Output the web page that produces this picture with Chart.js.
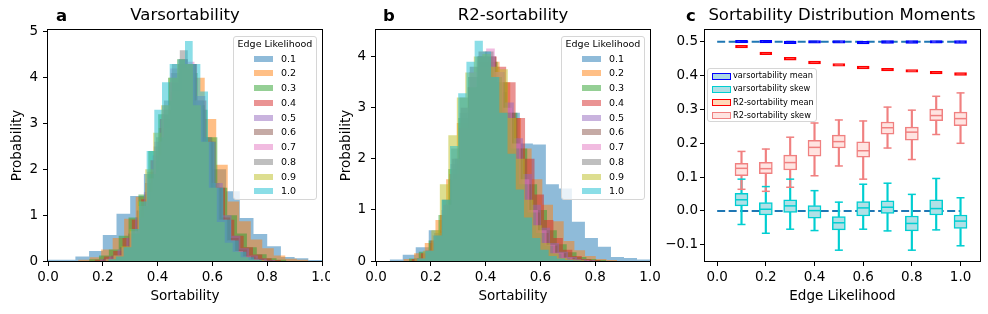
<!DOCTYPE html>
<html>
<head>
<meta charset="utf-8">
<script src="https://cdn.jsdelivr.net/npm/chart.js@4.4.1/dist/chart.umd.min.js"></script>
<style>
  body { margin: 0; background: #fff; }
  #fig { position: relative; width: 988px; height: 314px; font-family: "DejaVu Sans", sans-serif; color: #000; }
  .panel { position: absolute; top: 0; }
  .ttl { position: absolute; top: 5px; font-size: 16.5px; white-space: nowrap; transform: translateX(-50%); }
  .tag { position: absolute; top: 6px; font-size: 16.5px; font-weight: bold; }
  .lg { position: absolute; background: rgba(255,255,255,0.8); border: 1px solid #d6d6d6; border-radius: 3px; box-sizing: border-box; }
  .lg div { position: absolute; white-space: nowrap; }
</style>
</head>
<body>
<div id="fig">
  <div class="panel" style="left:0px"><canvas id="chartA" width="330" height="314"></canvas></div>
  <div class="panel" style="left:330px"><canvas id="chartB" width="330" height="314"></canvas></div>
  <div class="panel" style="left:660px"><canvas id="chartC" width="328" height="314"></canvas></div>

  <div class="tag" style="left:56px">a</div>
  <div class="ttl" style="left:185px">Varsortability</div>
  <div class="tag" style="left:383px">b</div>
  <div class="ttl" style="left:513px">R2-sortability</div>
  <div class="tag" style="left:686px">c</div>
  <div class="ttl" style="left:842px">Sortability Distribution Moments</div>

  <div class="lg" id="legA" style="left:233px;top:36px;width:84px;height:164px"></div>
  <div class="lg" id="legB" style="left:561px;top:36px;width:84px;height:164px"></div>
  <div class="lg" id="legC" style="left:707px;top:68px;width:110px;height:54px"></div>
</div>
<script>
// ---------- data ----------
const edgeLabels = ["0.1", "0.2", "0.3", "0.4", "0.5", "0.6", "0.7", "0.8", "0.9", "1.0"];
const edgeLik = [0.1, 0.2, 0.3, 0.4, 0.5, 0.6, 0.7, 0.8, 0.9, 1.0];
const tab10 = ["#1f77b4", "#ff7f0e", "#2ca02c", "#d62728", "#9467bd", "#8c564b", "#e377c2", "#7f7f7f", "#bcbd22", "#17becf"];

// panel a: varsortability histograms (20 bins between lo and hi, density)
const varLo = [0.00, 0.11, 0.15, 0.17, 0.19, 0.20, 0.21, 0.22, 0.21, 0.22];
const varHi = [1.00, 0.95, 0.87, 0.85, 0.83, 0.82, 0.80, 0.80, 0.79, 0.78];
const varDensity = [
  [0.03, 0.03, 0.10, 0.22, 0.57, 1.03, 1.42, 1.90, 2.60, 3.10, 3.20, 2.70, 2.00, 1.52, 0.94, 0.59, 0.32, 0.09, 0.06, 0.02],
  [0.03, 0.08, 0.25, 0.50, 0.92, 1.40, 1.95, 2.90, 3.70, 4.20, 4.00, 3.10, 2.10, 1.30, 0.87, 0.47, 0.28, 0.12, 0.05, 0.03],
  [0.04, 0.12, 0.25, 0.55, 0.95, 1.45, 2.40, 3.20, 4.00, 4.30, 4.10, 3.30, 2.70, 1.60, 1.00, 0.60, 0.30, 0.15, 0.06, 0.03],
  [0.03, 0.10, 0.22, 0.50, 0.90, 1.35, 2.20, 3.10, 3.90, 4.30, 4.30, 3.50, 2.60, 1.60, 0.90, 0.55, 0.30, 0.14, 0.06, 0.02],
  [0.04, 0.10, 0.25, 0.50, 0.95, 1.50, 2.30, 3.20, 3.90, 4.40, 4.30, 3.60, 2.60, 1.70, 1.00, 0.55, 0.28, 0.12, 0.05, 0.02],
  [0.05, 0.12, 0.30, 0.60, 1.10, 1.70, 2.50, 3.30, 4.10, 4.40, 4.30, 3.40, 2.60, 1.60, 0.95, 0.50, 0.25, 0.10, 0.05, 0.02],
  [0.05, 0.12, 0.30, 0.65, 1.20, 1.80, 2.60, 3.40, 4.20, 4.40, 4.35, 3.50, 2.60, 1.60, 0.90, 0.45, 0.22, 0.10, 0.04, 0.02],
  [0.04, 0.10, 0.30, 0.60, 1.20, 1.90, 2.70, 3.50, 4.30, 4.60, 4.30, 3.50, 2.70, 1.70, 0.90, 0.45, 0.20, 0.09, 0.04, 0.02],
  [0.04, 0.12, 0.32, 0.70, 1.30, 2.00, 2.80, 3.40, 4.00, 4.40, 4.30, 3.40, 2.60, 1.60, 0.85, 0.40, 0.20, 0.08, 0.03, 0.02],
  [0.04, 0.10, 0.30, 0.70, 1.30, 2.40, 3.30, 3.90, 4.30, 4.40, 4.80, 4.30, 3.70, 2.60, 1.60, 0.90, 0.45, 0.20, 0.08, 0.03]
];

// panel b: R2-sortability histograms
const r2Lo = [0.05, 0.10, 0.12, 0.13, 0.14, 0.15, 0.15, 0.15, 0.14, 0.15];
const r2Hi = [1.00, 0.88, 0.84, 0.82, 0.80, 0.79, 0.78, 0.77, 0.76, 0.75];
const r2Density = [
  [0.03, 0.12, 0.27, 0.60, 1.20, 2.00, 2.80, 3.30, 3.30, 2.90, 2.30, 2.28, 1.50, 1.42, 0.77, 0.45, 0.28, 0.08, 0.06, 0.03],
  [0.04, 0.15, 0.35, 0.80, 1.60, 2.70, 3.40, 3.80, 3.90, 3.50, 2.80, 2.20, 1.60, 1.10, 0.78, 0.39, 0.21, 0.10, 0.04, 0.02],
  [0.05, 0.18, 0.40, 0.90, 1.80, 2.80, 3.60, 4.00, 3.90, 3.50, 2.90, 2.20, 1.50, 1.00, 0.60, 0.33, 0.17, 0.08, 0.04, 0.02],
  [0.04, 0.15, 0.40, 0.90, 1.70, 2.60, 3.40, 3.90, 4.00, 3.80, 3.50, 2.80, 2.00, 1.30, 0.80, 0.45, 0.22, 0.10, 0.04, 0.02],
  [0.05, 0.20, 0.50, 1.00, 1.90, 2.90, 3.60, 4.00, 4.00, 3.70, 3.10, 2.40, 1.70, 1.10, 0.65, 0.35, 0.18, 0.08, 0.03, 0.02],
  [0.06, 0.20, 0.50, 1.10, 2.00, 3.00, 3.80, 4.10, 4.00, 3.50, 2.90, 2.20, 1.50, 0.95, 0.55, 0.30, 0.15, 0.06, 0.03, 0.02],
  [0.05, 0.20, 0.50, 1.10, 2.00, 3.00, 3.70, 4.00, 4.16, 3.70, 3.00, 2.30, 1.60, 1.00, 0.60, 0.32, 0.16, 0.07, 0.03, 0.02],
  [0.05, 0.20, 0.55, 1.20, 2.20, 3.20, 3.40, 4.00, 4.10, 3.60, 2.90, 2.20, 1.50, 0.95, 0.55, 0.30, 0.14, 0.06, 0.03, 0.02],
  [0.05, 0.20, 0.60, 1.50, 2.46, 3.20, 3.69, 4.00, 4.05, 3.80, 3.75, 2.80, 2.00, 1.20, 0.70, 0.35, 0.15, 0.06, 0.03, 0.02],
  [0.05, 0.20, 0.50, 1.20, 2.25, 3.28, 3.90, 4.31, 4.10, 3.60, 2.90, 2.10, 1.40, 0.85, 0.45, 0.22, 0.10, 0.05, 0.02, 0.01]
];

// panel c: box plot statistics per edge likelihood
const varMean = [0.5005, 0.5005, 0.4985, 0.5000, 0.5000, 0.4975, 0.4995, 0.4995, 0.4998, 0.4995];
const r2Mean = [0.486, 0.466, 0.450, 0.439, 0.432, 0.424, 0.418, 0.414, 0.409, 0.405];
const r2SkewLow = [0.064, 0.058, 0.070, 0.104, 0.133, 0.094, 0.186, 0.152, 0.226, 0.200];
const r2SkewQ1 = [0.104, 0.110, 0.121, 0.162, 0.186, 0.159, 0.227, 0.209, 0.267, 0.252];
const r2SkewMed = [0.126, 0.125, 0.143, 0.188, 0.205, 0.178, 0.246, 0.233, 0.282, 0.273];
const r2SkewQ3 = [0.141, 0.144, 0.165, 0.209, 0.224, 0.204, 0.263, 0.248, 0.301, 0.292];
const r2SkewHigh = [0.176, 0.183, 0.218, 0.260, 0.269, 0.266, 0.307, 0.298, 0.339, 0.349];
const varSkewLow = [-0.040, -0.066, -0.054, -0.058, -0.116, -0.054, -0.059, -0.116, -0.056, -0.103];
const varSkewQ1 = [0.015, -0.012, -0.004, -0.021, -0.056, -0.015, -0.007, -0.059, -0.012, -0.052];
const varSkewMed = [0.033, 0.005, 0.015, 0.001, -0.035, 0.009, 0.011, -0.037, 0.007, -0.030];
const varSkewQ3 = [0.052, 0.025, 0.033, 0.016, -0.017, 0.028, 0.030, -0.015, 0.033, -0.012];
const varSkewHigh = [0.094, 0.072, 0.094, 0.060, 0.026, 0.079, 0.082, 0.049, 0.096, 0.039];
const refLineX = [0, 1];
const meanRef = 0.5;
const skewRef = 0.0;

const ticks01 = [0, 0.2, 0.4, 0.6, 0.8, 1.0];
const ticksA = [0, 1, 2, 3, 4, 5];
const ticksB = [0, 1, 2, 3, 4];
const ticksC = [-0.1, 0, 0.1, 0.2, 0.3, 0.4, 0.5];
const legendC = ["varsortability mean", "varsortability skew", "R2-sortability mean", "R2-sortability skew"];

// ---------- common ----------
Chart.defaults.font.family = "'DejaVu Sans', sans-serif";
Chart.defaults.color = "#000";
const FS = 13.5;

const frame = {
  id: "frame",
  afterDraw(chart) {
    const { ctx, chartArea: a } = chart;
    ctx.save();
    ctx.strokeStyle = "#000";
    ctx.lineWidth = 1;
    ctx.strokeRect(Math.round(a.left) - 0.5, Math.round(a.top) - 0.5, Math.round(a.right - a.left) + 1, Math.round(a.bottom - a.top) + 1);
    ctx.restore();
  },
};

function noPad(s) {
  s.paddingLeft = 0; s.paddingRight = 0; s.paddingTop = 0; s.paddingBottom = 0;
}

function xAxis(min, max, ticks, title) {
  return {
    type: "linear", min, max, offset: false,
    afterBuildTicks: (s) => { s.ticks = ticks.map((v) => ({ value: v })); },
    afterFit: (s) => { s.height = 53; noPad(s); },
    grid: { drawOnChartArea: false, drawTicks: true, tickLength: 5, color: "#000", offset: false },
    border: { display: false },
    ticks: { font: { size: FS }, padding: 3, maxRotation: 0, autoSkip: false, callback: (v) => v.toFixed(1) },
    title: { display: true, text: title, font: { size: FS }, padding: { top: 0, bottom: 9 } },
  };
}

function yAxis(min, max, ticks, width, title, fmt, tpad, lpad) {
  return {
    type: "linear", min, max,
    afterBuildTicks: (s) => { s.ticks = ticks.map((v) => ({ value: v })); },
    afterFit: (s) => { s.width = width; noPad(s); },
    grid: { drawOnChartArea: false, drawTicks: true, tickLength: 5, color: "#000" },
    border: { display: false },
    ticks: { font: { size: FS }, padding: lpad, autoSkip: false, callback: fmt },
    title: { display: !!title, text: title, font: { size: FS }, padding: { top: tpad, bottom: 0 } },
  };
}

function histSets(lo, hi, dens) {
  return dens.map((h, i) => {
    const w = (hi[i] - lo[i]) / h.length;
    const pts = h.map((v, k) => ({ x: lo[i] + k * w, y: v }));
    pts.push({ x: hi[i], y: 0 });
    return {
      label: edgeLabels[i], data: pts, stepped: true, fill: "origin",
      backgroundColor: tab10[i] + "80", borderColor: "rgba(0,0,0,0)", borderWidth: 0,
      pointRadius: 0, order: 20 - i,
    };
  });
}

function histChart(id, lo, hi, dens, ymax, yticks, ywidth, tpad, rpad) {
  new Chart(document.getElementById(id), {
    type: "line",
    data: { datasets: histSets(lo, hi, dens) },
    options: {
      responsive: false, animation: false,
      layout: { padding: { left: 0, top: 30, right: rpad, bottom: 0 } },
      plugins: { legend: { display: false }, tooltip: { enabled: false } },
      scales: {
        x: xAxis(0, 1, ticks01, "Sortability"),
        y: yAxis(0, ymax, yticks, ywidth, "Probability", (v) => String(v), tpad, 5),
      },
    },
    plugins: [frame],
  });
}

// ========== a: varsortability ==========
histChart("chartA", varLo, varHi, varDensity, 5.04, ticksA, 48, 9, 8);

// ========== b: R2-sortability ==========
histChart("chartB", r2Lo, r2Hi, r2Density, 4.52, ticksB, 46, 8, 10);

// ========== c: moments ==========
const pts = (ys) => edgeLik.map((x, i) => ({ x, y: ys[i] }));
const spans = (a, b) => edgeLik.map((x, i) => ({ x, y: [a[i], b[i]] }));
const meanBox = (m) => edgeLik.map((x, i) => ({ x, y: [m[i] - 0.004, m[i] + 0.004] }));

function boxSets(low, q1, med, q3, high, fill, edge) {
  return [
    { type: "bar", data: spans(low, q1), backgroundColor: edge, barThickness: 1.5, grouped: false, order: 8 },
    { type: "bar", data: spans(q3, high), backgroundColor: edge, barThickness: 1.5, grouped: false, order: 8 },
    { type: "bar", data: spans(q1, q3), backgroundColor: fill, borderColor: edge, borderWidth: 1.5, borderSkipped: false, barThickness: 13, grouped: false, order: 6 },
    { type: "line", data: pts(low).concat(pts(high)), showLine: false, pointStyle: "line", pointRadius: 4, borderColor: edge, borderWidth: 1.5, order: 5 },
    { type: "line", data: pts(med), showLine: false, pointStyle: "line", pointRadius: 6, borderColor: edge, borderWidth: 1.5, order: 4 },
  ];
}

const refLine = (y) => ({
  type: "line", data: refLineX.map((x) => ({ x, y })), borderColor: "#1f77b4", borderWidth: 2,
  borderDash: [8, 3.5], pointRadius: 0, order: 10,
});

new Chart(document.getElementById("chartC"), {
  type: "bar",
  data: {
    datasets: [
      refLine(meanRef),
      refLine(skewRef),
      ...boxSets(r2SkewLow, r2SkewQ1, r2SkewMed, r2SkewQ3, r2SkewHigh, "#ffe4e1", "#f08080"),
      ...boxSets(varSkewLow, varSkewQ1, varSkewMed, varSkewQ3, varSkewHigh, "#b0e0e6", "#00ced1"),
      { type: "bar", data: meanBox(r2Mean), backgroundColor: "#ff0000", borderColor: "#ff0000", borderWidth: 1.5, borderSkipped: false, barThickness: 12, grouped: false, order: 2 },
      { type: "bar", data: meanBox(varMean), backgroundColor: "#0000ff", borderColor: "#0000ff", borderWidth: 1.5, borderSkipped: false, barThickness: 12, grouped: false, order: 2 },
    ],
  },
  options: {
    responsive: false, animation: false,
    layout: { padding: { left: 0, top: 30, right: 8, bottom: 0 } },
    plugins: { legend: { display: false }, tooltip: { enabled: false } },
    scales: {
      x: xAxis(-0.05, 1.08, ticks01, "Edge Likelihood"),
      y: yAxis(-0.148, 0.535, ticksC, 45, "", (v) => (v < 0 ? "\u2212" : "") + Math.abs(v).toFixed(1), 0, 2),
    },
  },
  plugins: [frame],
});

// ========== legends ==========
function histLegend(id) {
  const box = document.getElementById(id);
  const t = document.createElement("div");
  t.textContent = "Edge Likelihood";
  t.style.cssText = "left:0;width:100%;text-align:center;top:1px;font-size:9.5px";
  box.appendChild(t);
  edgeLabels.forEach((lab, i) => {
    const p = document.createElement("div");
    p.style.cssText = `left:20px;top:${18.5 + 14.75 * i}px;width:19px;height:6px;background:${tab10[i]}80`;
    box.appendChild(p);
    const s = document.createElement("div");
    s.textContent = lab;
    s.style.cssText = `left:47px;top:${15.5 + 14.75 * i}px;font-size:9.5px`;
    box.appendChild(s);
  });
}
histLegend("legA");
histLegend("legB");

const legCFill = ["#add8e6", "#b0e0e6", "#ffdab9", "#ffe4e1"];
const legCEdge = ["#0000ff", "#00ced1", "#ff0000", "#f08080"];
(function () {
  const box = document.getElementById("legC");
  legendC.forEach((lab, i) => {
    const p = document.createElement("div");
    p.style.cssText = `left:4px;top:${3.5 + 13.3 * i}px;width:17px;height:5px;background:${legCFill[i]};border:1px solid ${legCEdge[i]}`;
    box.appendChild(p);
    const s = document.createElement("div");
    s.textContent = lab;
    s.style.cssText = `left:25px;top:${1 + 13.3 * i}px;font-size:8.2px`;
    box.appendChild(s);
  });
})();
</script>
</body>
</html>
